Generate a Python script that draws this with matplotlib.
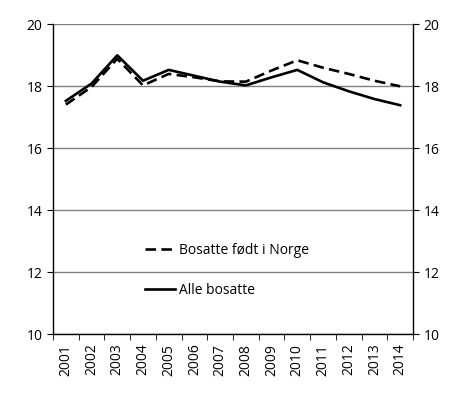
import numpy as np
import matplotlib.pyplot as plt

plt.rcParams['font.family'] = ['Open Sans', 'DejaVu Sans']

years = ['2001', '2002', '2003', '2004', '2005', '2006', '2007',
         '2008', '2009', '2010', '2011', '2012', '2013', '2014']
fodt_i_norge = [17.40, 17.97, 18.88, 18.02, 18.39, 18.28, 18.15,
                18.14, 18.50, 18.83, 18.59, 18.39, 18.17, 17.99]
alle_bosatte = [17.52, 18.08, 18.99, 18.17, 18.52, 18.33, 18.14,
                18.02, 18.28, 18.52, 18.12, 17.83, 17.58, 17.38]

fig = plt.figure(figsize=(4.6, 3.96), dpi=100)
ax = fig.add_axes([53 / 460, 62 / 396, 360 / 460, 310 / 396])

x = np.arange(len(years))
ax.plot(x, fodt_i_norge, color='black', lw=1.9, dashes=(4, 2),
        label='Bosatte født i Norge')
ax.plot(x, alle_bosatte, color='black', lw=1.9, label='Alle bosatte')

ax.set_xlim(-0.5, len(years) - 0.5)
ax.set_ylim(10, 20)
ax.set_yticks(range(10, 21, 2))
ax.yaxis.grid(True, color='#808080', lw=1)
ax.set_axisbelow(True)

ax.set_xticks(x)
ax.set_xticklabels(years, rotation=90, fontsize=10)
ax.set_xticks(np.arange(-0.5, len(years), 1), minor=True)
ax.tick_params(axis='x', which='major', length=0, pad=7)
ax.tick_params(axis='x', which='minor', length=4, direction='out')
ax.tick_params(axis='y', labelsize=10, length=4, direction='out',
               left=True, right=True, labelleft=True, labelright=True)

ax.spines['top'].set_visible(False)
for s in ['left', 'right', 'bottom']:
    ax.spines[s].set_color('black')
    ax.spines[s].set_linewidth(1)

leg = ax.legend(loc='upper left', bbox_to_anchor=(0.22, 0.335), frameon=False,
                fontsize=10, handlelength=2.2, handletextpad=0.3,
                labelspacing=1.8)

fig.savefig('out.png', dpi=100)
